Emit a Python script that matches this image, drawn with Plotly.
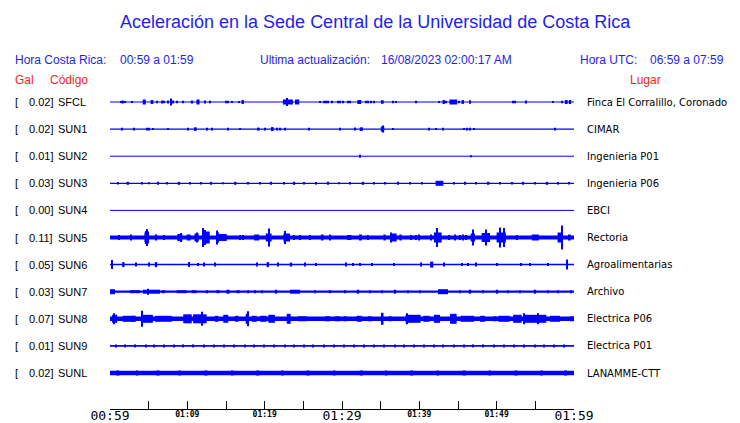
import plotly.graph_objects as go

# ---------------- data ----------------
codes = ["SFCL", "SUN1", "SUN2", "SUN3", "SUN4", "SUN5", "SUN6", "SUN7", "SUN8", "SUN9", "SUNL"]
peak_gal = ["0.02", "0.02", "0.01", "0.03", "0.00", "0.11", "0.05", "0.03", "0.07", "0.01", "0.02"]
places = ["Finca El Corralillo, Coronado", "CIMAR", "Ingenieria P01", "Ingenieria P06", "EBCI",
          "Rectoria", "Agroalimentarias", "Archivo", "Electrica P06", "Electrica P01", "LANAMME-CTT"]

# background noise band of each trace (px, full thickness)
noise_band = [1.2, 1.2, 1, 1.3, 1, 4, 1.5, 2.2, 4.5, 1.8, 4.5]

# time axis: minutes after 00:59
tick_minutes = [0, 5, 10, 15, 20, 25, 30, 35, 40, 45, 50, 55, 60]
big_labels = ["00:59", "", "", "", "", "", "01:29", "", "", "", "", "", "01:59"]
small_minutes = [10, 20, 40, 50]
small_labels = ["01:09", "01:19", "01:39", "01:49"]

# events: [minute, half amplitude, duration (min)]
ev_sfcl = [[1.38, 1], [1.64, 1.5, 0.3], [1.94, 0.7], [2.8, 0.7], [4.43, 2.5, 0.4], [5.43, 2, 0.35],
           [6.08, 1.3], [6.68, 1.5], [6.98, 1.3], [7.5, 1.5], [7.85, 3.5], [8.1, 1.5], [8.62, 1.3],
           [9.4, 1.3], [10.6, 1.5, 0.3], [11.38, 2.5, 0.4], [12.28, 1.5], [13.0, 1.3], [14.96, 1.3],
           [15.3, 1.3], [15.81, 0.8], [16.72, 1], [17.16, 2, 0.3], [23.0, 2.5, 1.3], [22.93, 4],
           [24.2, 2.5, 0.55], [27.15, 1], [27.7, 1.3], [28.0, 1.3], [28.2, 1.3], [28.74, 1.3],
           [29.52, 1.3], [29.74, 1.3], [30.17, 1.3], [30.8, 1.3], [31.07, 1.3], [32.23, 2, 0.5],
           [33.06, 1.3], [33.36, 1.3], [33.75, 1.3], [34.18, 1.3], [35.26, 1.8, 0.25], [36.63, 1.3],
           [36.98, 1], [39.57, 1.3], [42.5, 0.7], [43.15, 2, 0.3], [43.45, 1.3], [44.39, 2.5, 1.0],
           [45.17, 1.3], [45.61, 2, 0.3], [46.51, 1.8], [52.15, 1.3], [52.37, 1.3], [53.79, 1.5],
           [57.32, 0.7], [58.41, 1.3], [59.0, 2, 0.35], [59.48, 2, 0.3]]
ev_sun1 = [[1.59, 1.3], [3.14, 1.3], [4.82, 1.3], [5.04, 1.3], [5.6, 1], [7.46, 0.8], [10.12, 1.3],
           [11.08, 1.8, 0.25], [12.58, 1.3], [13.23, 1.3], [15.3, 1.3], [16.85, 0.8], [19.23, 1.5, 0.25],
           [20.08, 1.3], [20.99, 2, 0.35], [21.63, 1.3], [22.02, 1.3], [22.67, 1.3], [25.77, 1.3],
           [29.78, 1.3], [31.68, 1.5, 0.25], [32.5, 1.8, 0.4], [35.24, 2.5, 0.45], [35.3, 3.5],
           [36.63, 1], [41.29, 1.3], [42.12, 0.8], [43.1, 1.3], [45.81, 1], [46.12, 1.3], [46.55, 1.3],
           [47.11, 1], [57.58, 1.3]]
ev_sun2 = [[32.33, 1.5], [46.68, 1]]
ev_sun3 = [[1.0, 1.3], [2.3, 1.5, 0.3], [4.1, 1.3], [5.0, 1], [6.2, 1.5], [7.4, 1.3], [8.9, 1.5, 0.3],
           [10.3, 1.3], [11.8, 1.3], [13.1, 1.5], [14.6, 1], [16.2, 1.5, 0.3], [17.9, 1.3], [19.4, 1.3],
           [20.8, 1.5], [22.5, 1.3], [23.8, 1.5, 0.3], [25.1, 1.3], [26.7, 1.3], [28.2, 1.5], [29.6, 1],
           [31.0, 1.3], [32.7, 1.5, 0.3], [34.1, 1.3], [35.6, 1.3], [37.2, 1.5], [38.8, 1.3],
           [40.3, 1.3], [42.6, 2.5, 1.0], [44.5, 1.3], [45.9, 1.5], [47.3, 1.3], [48.9, 1.5, 0.3],
           [50.4, 1.3], [52.0, 1.3], [53.4, 1.5], [55.0, 1.3], [56.5, 1.5, 0.3], [58.0, 1.3], [59.4, 1.3]]
ev_sun4 = []
ev_sun5 = [[1.2, 2.5], [2.68, 3], [4.75, 5, 0.6], [4.75, 8.5], [4.6, 6.5], [4.9, 6], [5.95, 3, 0.3],
           [7.02, 2.5], [9.03, 3.5, 0.65], [9.2, 4.5], [10.17, 3, 0.5], [11.2, 4, 0.55], [11.3, 5],
           [12.47, 6, 0.85], [12.07, 9.5], [12.3, 7.5], [13.8, 7], [14.4, 3.5, 1.4], [14.0, 5],
           [16.8, 2.5], [17.16, 2.5], [18.96, 3, 0.65], [20.52, 4, 0.75], [20.6, 9], [22.85, 4, 0.85],
           [22.63, 6.5], [23.79, 2.5], [24.57, 2.5], [25.86, 2.5], [27.48, 3, 0.25], [28.45, 3],
           [30.78, 2.5], [31.0, 2.5, 0.45], [32.44, 3, 0.25], [33.4, 2.5], [35.5, 3, 0.3],
           [36.64, 4, 0.85], [36.4, 5], [37.56, 3, 0.3], [38.9, 2.5], [39.6, 2.5], [40.0, 3],
           [41.47, 3], [42.39, 5, 1.0], [42.25, 9.5], [43.9, 2.5], [44.6, 3], [45.2, 2.5], [45.6, 3],
           [46.0, 2.5], [46.92, 4, 0.55], [46.9, 8], [48.6, 4.5, 1.1], [48.62, 8], [50.59, 5, 1.2],
           [50.43, 10], [50.95, 9.5], [52.67, 2.5], [55.0, 3, 0.9], [58.2, 5, 0.65], [58.49, 12],
           [59.4, 3, 0.35]]
ev_sun6 = [[0.3, 4.5], [1.72, 2.5, 0.3], [3.36, 2], [5.0, 2], [5.95, 2.5, 0.3], [10.26, 2.5],
           [11.42, 1.5], [12.2, 2], [13.58, 2], [19.0, 2], [20.4, 2.5, 0.3], [21.7, 2], [23.4, 2, 0.3],
           [25.2, 2], [26.6, 1.5], [30.5, 2], [31.4, 1.5], [32.3, 1.5], [33.9, 1.5], [36.7, 1.5],
           [40.2, 2], [41.6, 3, 0.4], [43.2, 2], [45.5, 1.5], [46.3, 1.5], [47.3, 2], [50.0, 1.5],
           [53.2, 1.5], [54.3, 1.5], [56.6, 1.5], [59.1, 5]]
ev_sun7 = [[0.32, 2.5, 0.65], [3.23, 1.5, 1.3], [5.37, 2, 2.2], [4.91, 3], [6.89, 1.5, 0.4],
           [9.27, 1.5, 1.3], [10.86, 1.5, 0.65], [12.5, 1.5], [13.96, 1.5, 0.4], [15.26, 2, 0.4],
           [16.55, 1.5, 0.4], [17.88, 1.5], [18.75, 1.5], [19.65, 1.5], [21.46, 2, 0.3], [23.92, 2, 1.3],
           [26.51, 1.5], [28.45, 1.5, 0.3], [30.39, 1.5], [32.07, 2, 0.3], [33.62, 1.5], [35.17, 1.5],
           [36.85, 2, 0.3], [38.53, 1.5], [40.08, 1.5], [43.06, 2.5, 1.3], [45.26, 1.5], [46.55, 2, 0.3],
           [48.23, 1.5], [50.04, 2, 0.3], [51.46, 1.5], [53.01, 1.5], [54.95, 2, 0.3], [56.63, 1.5],
           [57.93, 1.5], [59.61, 1.5]]
ev_sun8 = [[0.6, 4, 0.65], [0.56, 5.5], [2.48, 3, 1.7], [3.02, 3, 0.45], [4.18, 8], [4.9, 4, 1.3],
           [6.9, 3, 2.15], [10.02, 4.5, 1.1], [11.62, 4.5, 1.75], [11.86, 7], [13.79, 3, 0.45],
           [14.97, 4, 0.65], [16.38, 3, 0.45], [17.72, 5, 0.35], [17.8, 7.5], [18.65, 3, 0.65],
           [19.83, 3, 0.85], [20.9, 4, 0.85], [23.11, 5, 0.5], [24.87, 2.5, 1.1], [28.13, 2.5, 0.65],
           [29.42, 2.5, 0.65], [30.39, 2.5, 0.45], [32.23, 3, 0.65], [33.61, 2.5, 0.45], [35.24, 6, 0.25],
           [36.31, 2.5, 0.25], [39.19, 4, 1.95], [38.36, 5.5], [40.94, 3, 0.85], [42.28, 4, 0.8],
           [44.4, 5, 0.85], [46.2, 3, 1.75], [48.17, 3, 0.65], [49.78, 2.5, 0.45], [50.96, 3, 1.5],
           [52.68, 4, 1.1], [53.57, 5.5], [55.03, 4, 2.8], [55.38, 5.5], [57.54, 3, 1.3], [59.7, 2.5, 0.45]]
ev_sun9 = [[0.8, 1.5], [2.0, 1.5], [3.3, 1.5], [4.6, 1.5], [5.7, 1.5], [7.0, 1.5], [8.3, 1.5],
           [9.5, 1.5], [10.8, 1.5], [12.2, 1.5], [13.5, 1.5], [14.7, 1.5], [16.0, 1.5], [17.4, 1.5],
           [18.6, 1.5], [19.9, 1.5], [21.2, 1.5], [22.6, 1.5], [23.8, 1.5], [25.1, 1.5], [26.3, 1.5],
           [27.7, 1.5], [29.0, 1.5], [30.2, 1.5], [31.6, 1.5], [32.9, 1.5], [34.1, 1.5], [35.4, 1.5],
           [36.8, 1.5], [38.0, 1.5], [39.3, 1.5], [40.6, 1.5], [41.9, 1.5], [43.1, 1.5], [44.5, 1.5],
           [45.8, 1.5], [47.0, 1.5], [48.3, 1.5], [49.7, 1.5], [50.9, 1.5], [52.2, 1.5], [53.5, 1.5],
           [54.9, 1.5], [56.1, 1.5], [57.4, 1.5], [58.7, 1.5]]
ev_sunl = [[1.0, 2.5, 0.4], [3.5, 2.5, 0.3], [6.2, 2.5, 0.4], [9.0, 2.5, 0.3], [12.4, 2.5, 0.4],
           [15.8, 2.5, 0.3], [19.1, 2.5, 0.4], [22.3, 2.5, 0.3], [25.6, 2.5, 0.4], [29.0, 2.5, 0.3],
           [32.5, 2.5, 0.4], [35.7, 2.5, 0.3], [39.0, 2.5, 0.4], [42.4, 2.5, 0.3], [45.8, 2.5, 0.4],
           [49.1, 2.5, 0.3], [52.5, 2.5, 0.4], [55.8, 2.5, 0.3], [58.9, 2.5, 0.4]]
events = [ev_sfcl, ev_sun1, ev_sun2, ev_sun3, ev_sun4, ev_sun5, ev_sun6, ev_sun7, ev_sun8, ev_sun9, ev_sunl]

# ---------------- layout constants (window pixels) ----------------
OFF = 8                     # page body margin
W, H = 740 - OFF, 423 - OFF
PL, PR = 110, 574           # plot left/right in window px
AXIS_Y = 409                # axis line in window px
TOP_Y = OFF                 # top of plot area in window px
ROW0, ROW_STEP = 102, 27.1  # first trace and spacing in window px
BLUE = "#0000ff"
TXT_BLUE = "#1e1ef0"
RED = "#ff1a1a"
DEFAULT_DUR = 0.14


def px_x(px):
    return (px - PL) / (PR - PL)


def px_y(py):
    return (AXIS_Y - py) / (AXIS_Y - TOP_Y)


fig = go.Figure()

for i, (code, evs) in enumerate(zip(codes, events)):
    fig.add_trace(go.Scatter(x=[tick_minutes[0], tick_minutes[-1]], y=[i, i], mode="lines",
                             line=dict(color=BLUE, width=noise_band[i]), hoverinfo="skip",
                             showlegend=False))
    if evs:
        xs = [e[0] for e in evs]
        amp = [e[1] / ROW_STEP for e in evs]
        dur = [e[2] if len(e) > 2 else DEFAULT_DUR for e in evs]
        fig.add_trace(go.Bar(x=xs, y=[2 * a for a in amp], base=[i - a for a in amp], width=dur,
                             marker=dict(color=BLUE, line=dict(width=0)), showlegend=False,
                             hoverinfo="skip"))

fig.add_trace(go.Scatter(x=[0, 60], y=[0, 0], xaxis="x2", mode="lines",
                         line=dict(width=0), showlegend=False, hoverinfo="skip"))

y_top = (TOP_Y - ROW0) / ROW_STEP
y_bot = (AXIS_Y - ROW0) / ROW_STEP

fig.update_layout(
    width=W, height=H,
    margin=dict(l=PL - OFF, r=W - (PR - OFF), t=0, b=H - (AXIS_Y - OFF), pad=0, autoexpand=False),
    paper_bgcolor="white", plot_bgcolor="white",
    barmode="overlay", showlegend=False,
    xaxis=dict(range=[0, 60], tickmode="array", tickvals=tick_minutes, ticktext=big_labels,
               ticks="inside", ticklen=8, tickwidth=1, tickcolor="black", automargin=False,
               ticklabelstandoff=-6,
               showline=True, linecolor="black", linewidth=1, showgrid=False, zeroline=False,
               tickfont=dict(family="DejaVu Sans Mono", size=13, color="black"), fixedrange=True),
    xaxis2=dict(range=[0, 60], overlaying="x", side="bottom", anchor="y", tickmode="array",
                tickvals=small_minutes, ticktext=small_labels, ticks="", showline=False,
                showgrid=False, zeroline=False, automargin=False, ticklabelstandoff=-1,
                tickfont=dict(family="DejaVu Sans Mono", size=8, color="black", weight="bold")),
    yaxis=dict(range=[y_bot, y_top], visible=False, fixedrange=True, automargin=False),
)

ann = []


def text(px, py, s, color="black", size=12, family="Liberation Sans", anchor="left", yref="paper", y=None):
    ann.append(dict(x=px_x(px), y=px_y(py) if y is None else y, xref="paper", yref=yref, text=s,
                    showarrow=False, xanchor=anchor, yanchor="middle",
                    font=dict(color=color, size=size, family=family)))


text(375, 22, "Aceleración en la Sede Central de la Universidad de Costa Rica", TXT_BLUE, 18,
     anchor="center")
text(13, 60, "Hora Costa Rica:", TXT_BLUE, 12)
text(118, 60, "00:59 a 01:59", TXT_BLUE, 12)
text(258, 60, "Ultima actualización:", TXT_BLUE, 12)
text(379, 60, "16/08/2023 02:00:17 AM", TXT_BLUE, 12)
text(578, 60, "Hora UTC:", TXT_BLUE, 12)
text(648, 60, "06:59 a 07:59", TXT_BLUE, 12)
text(13, 80, "Gal", RED, 12)
text(48, 80, "Código", RED, 12)
text(645, 80, "Lugar", RED, 12, anchor="center")

for i in range(len(codes)):
    text(13, 0, "[", "black", 11, yref="y", y=i)
    text(55, 0, peak_gal[i] + "]", "black", 11, anchor="right", yref="y", y=i)
    text(56, 0, codes[i], "black", 11, yref="y", y=i)
    text(585, 0, places[i], "black", 10, family="DejaVu Sans", yref="y", y=i)

fig.update_layout(annotations=ann)
fig.write_html("out.html")
